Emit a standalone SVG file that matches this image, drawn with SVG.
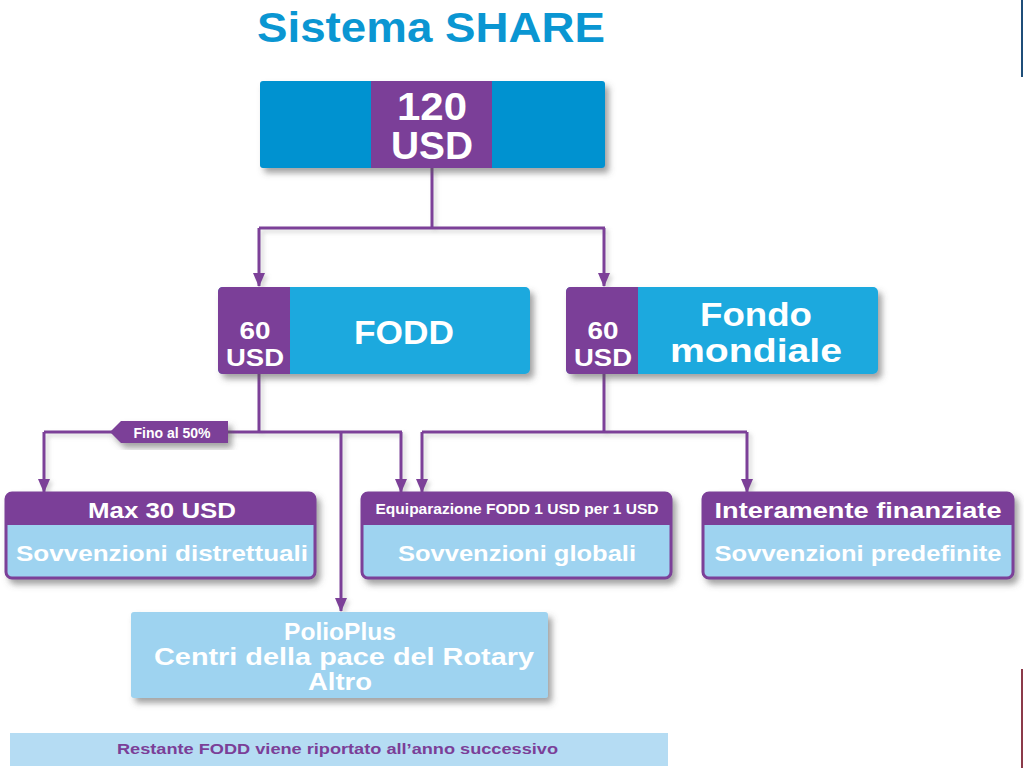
<svg xmlns="http://www.w3.org/2000/svg" width="1024" height="768" viewBox="0 0 1024 768">
<defs>
<style>
.t{font-family:"Liberation Sans","Open Sans",sans-serif;font-weight:bold;fill:#fff;text-anchor:middle}
.c{fill:none;stroke:#7b3f98;stroke-width:3}
.pur{fill:#7b3f98}
</style>
<filter id="sh" x="-10%" y="-10%" width="130%" height="140%">
<feDropShadow dx="4" dy="5" stdDeviation="3" flood-color="#555" flood-opacity="0.55"/>
</filter>
<filter id="lsh" x="-10%" y="-10%" width="130%" height="130%">
<feDropShadow dx="3" dy="3" stdDeviation="2" flood-color="#888" flood-opacity="0.35"/>
</filter>
<marker id="ar" viewBox="0 0 14 12" refX="13" refY="6" markerWidth="14" markerHeight="12" markerUnits="userSpaceOnUse" orient="auto">
<path d="M0,0 L14,6 L0,12 Z" fill="#7b3f98"/>
</marker>
</defs>
<rect width="1024" height="768" fill="#fff"/>
<rect x="1021" y="0" width="2" height="77" fill="#1f4e79"/>
<rect x="1021" y="669" width="2" height="99" fill="#8b3a4a"/>

<text x="431" y="42" font-family="'Liberation Sans','Open Sans',sans-serif" font-weight="bold" font-size="42" fill="#0a96d2" text-anchor="middle" textLength="348" lengthAdjust="spacingAndGlyphs">Sistema SHARE</text>

<g id="connectors" filter="url(#lsh)">
<path class="c" d="M432,168 V228"/>
<path class="c" d="M259,228 H605"/>
<path class="c" d="M259,228 V286" marker-end="url(#ar)"/>
<path class="c" d="M604,228 V286" marker-end="url(#ar)"/>
<path class="c" d="M259,374 V432"/>
<path class="c" d="M44,432 H402"/>
<path class="c" d="M44,432 V492" marker-end="url(#ar)"/>
<path class="c" d="M341,432 V611" marker-end="url(#ar)"/>
<path class="c" d="M401,432 V492" marker-end="url(#ar)"/>
<path class="c" d="M604,374 V432"/>
<path class="c" d="M422,432 H747"/>
<path class="c" d="M422,432 V492" marker-end="url(#ar)"/>
<path class="c" d="M747,432 V492" marker-end="url(#ar)"/>
</g>

<g id="label-fino">
<path d="M110,432 L121,421 H228 V443 H121 Z" class="pur" filter="url(#sh)"/>
<text class="t" x="172" y="437.5" font-size="14">Fino al 50%</text>
</g>

<g id="n-120">
<g filter="url(#sh)">
<rect x="260" y="81" width="345" height="87" rx="3" fill="#0092d0"/>
</g>
<rect x="371" y="81" width="121" height="87" class="pur"/>
<text class="t" x="432" y="120" font-size="38" textLength="70" lengthAdjust="spacingAndGlyphs">120</text>
<text class="t" x="432" y="159" font-size="38" textLength="82" lengthAdjust="spacingAndGlyphs">USD</text>
</g>

<g id="n-fodd">
<rect x="218" y="287" width="312" height="87" rx="5" fill="#1aa9de" filter="url(#sh)"/>
<path d="M223,287 H290 V374 H223 Q218,374 218,369 V292 Q218,287 223,287 Z" class="pur"/>
<text class="t" x="255" y="339" font-size="24" textLength="31" lengthAdjust="spacingAndGlyphs">60</text>
<text class="t" x="255" y="366" font-size="24" textLength="58" lengthAdjust="spacingAndGlyphs">USD</text>
<text class="t" x="404" y="344" font-size="34" textLength="100" lengthAdjust="spacingAndGlyphs">FODD</text>
</g>

<g id="n-fondo">
<rect x="566" y="287" width="312" height="87" rx="5" fill="#1aa9de" filter="url(#sh)"/>
<path d="M571,287 H638 V374 H571 Q566,374 566,369 V292 Q566,287 571,287 Z" class="pur"/>
<text class="t" x="603" y="339" font-size="24" textLength="31" lengthAdjust="spacingAndGlyphs">60</text>
<text class="t" x="603" y="366" font-size="24" textLength="58" lengthAdjust="spacingAndGlyphs">USD</text>
<text class="t" x="756" y="326" font-size="34" textLength="112" lengthAdjust="spacingAndGlyphs">Fondo</text>
<text class="t" x="756" y="362" font-size="34" textLength="172" lengthAdjust="spacingAndGlyphs">mondiale</text>
</g>

<g id="n-distr">
<rect x="6" y="493" width="309" height="85" rx="6" fill="#9ed3f0" stroke="#7b3f98" stroke-width="3" filter="url(#sh)"/>
<path d="M12,493 H309 Q315,493 315,499 V525 H6 V499 Q6,493 12,493 Z" class="pur"/>
<text class="t" x="162" y="518" font-size="22" textLength="148" lengthAdjust="spacingAndGlyphs">Max 30 USD</text>
<text class="t" x="162" y="561" font-size="22" textLength="292" lengthAdjust="spacingAndGlyphs">Sovvenzioni distrettuali</text>
</g>

<g id="n-glob">
<rect x="362" y="493" width="309" height="85" rx="6" fill="#9ed3f0" stroke="#7b3f98" stroke-width="3" filter="url(#sh)"/>
<path d="M368,493 H665 Q671,493 671,499 V525 H362 V499 Q362,493 368,493 Z" class="pur"/>
<text class="t" x="517" y="514" font-size="14" textLength="283" lengthAdjust="spacingAndGlyphs">Equiparazione FODD 1 USD per 1 USD</text>
<text class="t" x="517" y="561" font-size="22" textLength="238" lengthAdjust="spacingAndGlyphs">Sovvenzioni globali</text>
</g>

<g id="n-pred">
<rect x="703" y="493" width="310" height="85" rx="6" fill="#9ed3f0" stroke="#7b3f98" stroke-width="3" filter="url(#sh)"/>
<path d="M709,493 H1007 Q1013,493 1013,499 V525 H703 V499 Q703,493 709,493 Z" class="pur"/>
<text class="t" x="858" y="518" font-size="22" textLength="287" lengthAdjust="spacingAndGlyphs">Interamente finanziate</text>
<text class="t" x="858" y="561" font-size="22" textLength="287" lengthAdjust="spacingAndGlyphs">Sovvenzioni predefinite</text>
</g>

<g id="n-polio">
<rect x="131" y="612" width="417" height="86" rx="3" fill="#9ed3f0" filter="url(#sh)"/>
<text class="t" x="340" y="640" font-size="24" textLength="112" lengthAdjust="spacingAndGlyphs">PolioPlus</text>
<text class="t" x="344" y="665" font-size="24" textLength="380" lengthAdjust="spacingAndGlyphs">Centri della pace del Rotary</text>
<text class="t" x="340" y="690" font-size="24" textLength="64" lengthAdjust="spacingAndGlyphs">Altro</text>
</g>

<g id="n-note">
<rect x="10" y="733" width="658" height="33" fill="#b5dcf3"/>
<text x="117" y="754" font-family="'Liberation Sans','Open Sans',sans-serif" font-weight="bold" font-size="15" fill="#7b3f98" textLength="441" lengthAdjust="spacingAndGlyphs">Restante FODD viene riportato all’anno successivo</text>
</g>
</svg>
